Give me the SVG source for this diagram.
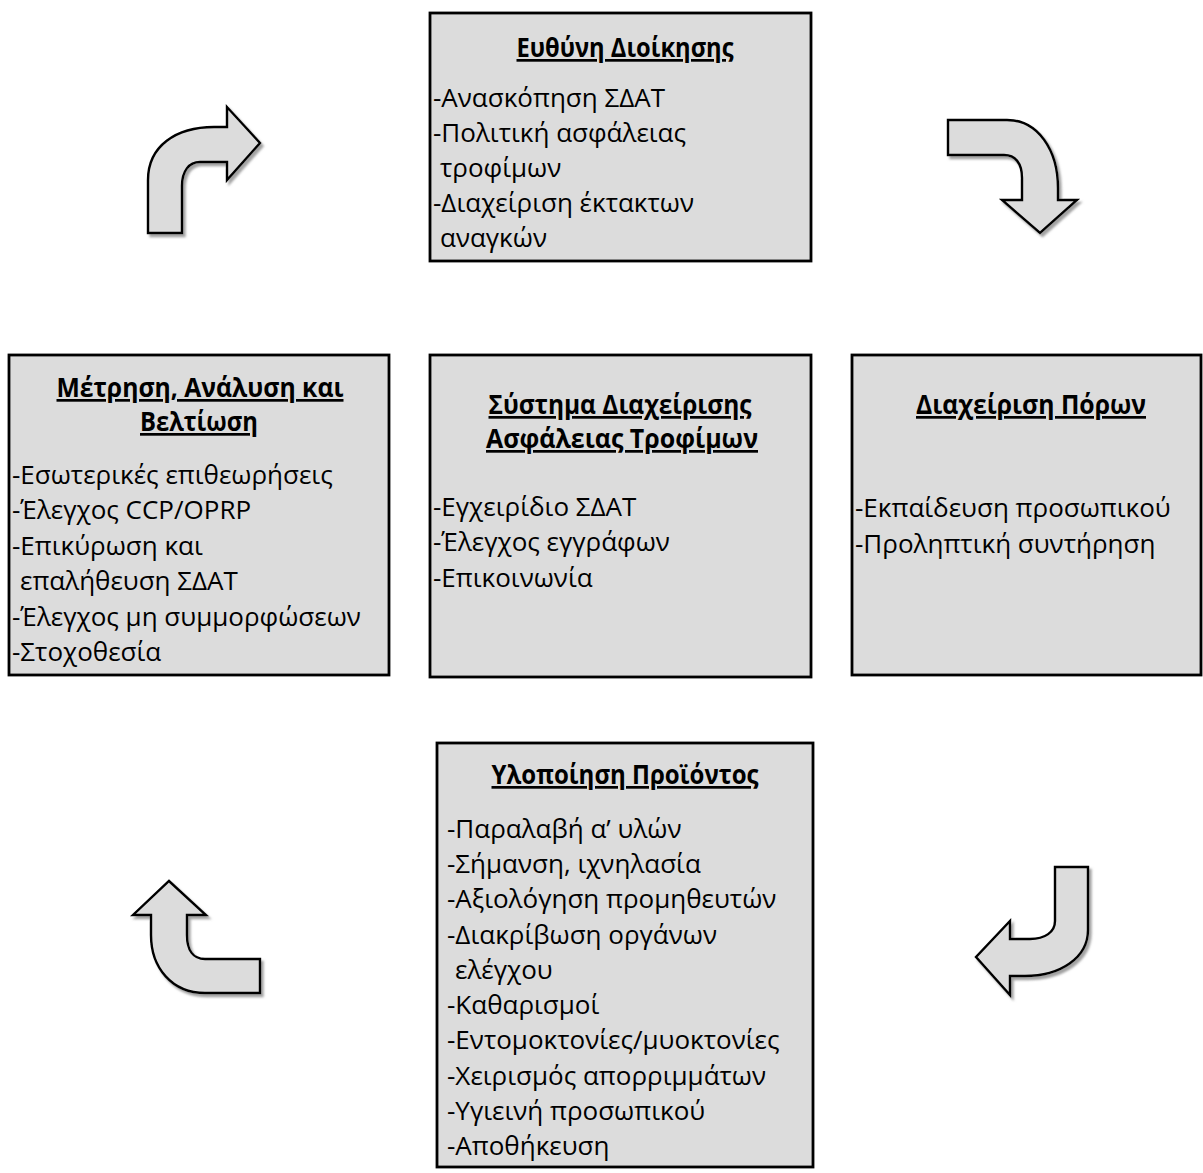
<svg xmlns="http://www.w3.org/2000/svg" width="1203" height="1173" viewBox="0 0 1203 1173">
  <style>
    .box { fill: #dcdcdc; stroke: #000; stroke-width: 2.8; }
    .arrow { fill: #dcdcdc; stroke: #000; stroke-width: 2.4; stroke-linejoin: miter; filter: url(#shadow); }
    text { font-family: "Open Sans", "Noto Sans", sans-serif; font-size: 26px; fill: #000; }
    .title { font-size: 27px; font-weight: bold; text-anchor: middle; text-decoration: underline; }
  </style>
  <defs>
    <filter id="shadow" x="-20%" y="-20%" width="140%" height="140%">
      <feDropShadow dx="2.5" dy="3" stdDeviation="1" flood-color="#7a7a7a" flood-opacity="0.7"/>
    </filter>
  </defs>
  <rect width="1203" height="1173" fill="#fff"/>

  <!-- curved cycle arrows -->
  <g id="connectors">
    <path class="arrow" d="M148,233 L148,180 C148,146 176,127 214,127 L227,127 L227,107 L260,143 L227,180 L227,162 L200,162 C189,162 182,171 182,186 L182,233 Z"/>
    <path class="arrow" d="M948,120 L1007,120 C1038,120 1058,150 1058,188 L1058,200 L1077,200 L1040,233 L1002,200 L1022,200 L1022,178 C1022,163 1015,155 1004,155 L948,155 Z"/>
    <path class="arrow" d="M1055,867 L1088,867 L1088,930 C1088,958 1060,976 1025,976 L1010,976 L1010,995 L976,957 L1010,921 L1010,939 L1030,939 C1045,939 1055,932 1055,921 Z"/>
    <path class="arrow" d="M169,881 L206,915 L187,915 L187,935 C187,950 193,959 205,959 L260,959 L260,993 L205,993 C172,993 151,968 151,935 L151,915 L133,915 Z"/>
  </g>

  <g id="management">
    <rect class="box" x="430" y="13" width="381" height="248"/>
    <text class="title" x="625" y="57" textLength="217" lengthAdjust="spacingAndGlyphs">Ευθύνη Διοίκησης</text>
    <text x="433" y="107">-Ανασκόπηση ΣΔΑΤ</text>
    <text x="433" y="142">-Πολιτική ασφάλειας</text>
    <text x="440" y="177">τροφίμων</text>
    <text x="433" y="212">-Διαχείριση έκτακτων</text>
    <text x="440" y="247">αναγκών</text>
  </g>

  <g id="measurement">
    <rect class="box" x="9" y="355" width="380" height="320"/>
    <text class="title" x="200" y="397" textLength="287" lengthAdjust="spacingAndGlyphs">Μέτρηση, Ανάλυση και</text>
    <text class="title" x="199" y="431" textLength="118" lengthAdjust="spacingAndGlyphs">Βελτίωση</text>
    <text x="12" y="484">-Εσωτερικές επιθεωρήσεις</text>
    <text x="12" y="519">-Έλεγχος CCP/OPRP</text>
    <text x="12" y="555">-Επικύρωση και</text>
    <text x="20" y="590">επαλήθευση ΣΔΑΤ</text>
    <text x="12" y="626">-Έλεγχος μη συμμορφώσεων</text>
    <text x="12" y="661">-Στοχοθεσία</text>
  </g>

  <g id="fsms">
    <rect class="box" x="430" y="355" width="381" height="322"/>
    <text class="title" x="620" y="414" textLength="263" lengthAdjust="spacingAndGlyphs">Σύστημα Διαχείρισης</text>
    <text class="title" x="622" y="448" textLength="272" lengthAdjust="spacingAndGlyphs">Ασφάλειας Τροφίμων</text>
    <text x="433" y="516">-Εγχειρίδιο ΣΔΑΤ</text>
    <text x="433" y="551">-Έλεγχος εγγράφων</text>
    <text x="433" y="587">-Επικοινωνία</text>
  </g>

  <g id="resources">
    <rect class="box" x="852" y="355" width="349" height="320"/>
    <text class="title" x="1031" y="414" textLength="230" lengthAdjust="spacingAndGlyphs">Διαχείριση Πόρων</text>
    <text x="855" y="517">-Εκπαίδευση προσωπικού</text>
    <text x="855" y="553">-Προληπτική συντήρηση</text>
  </g>

  <g id="product">
    <rect class="box" x="437" y="743" width="376" height="424"/>
    <text class="title" x="625" y="784" textLength="267" lengthAdjust="spacingAndGlyphs">Υλοποίηση Προϊόντος</text>
    <text x="447" y="838">-Παραλαβή α’ υλών</text>
    <text x="447" y="873">-Σήμανση, ιχνηλασία</text>
    <text x="447" y="908">-Αξιολόγηση προμηθευτών</text>
    <text x="447" y="944">-Διακρίβωση οργάνων</text>
    <text x="455" y="979">ελέγχου</text>
    <text x="447" y="1014">-Καθαρισμοί</text>
    <text x="447" y="1049">-Εντομοκτονίες/μυοκτονίες</text>
    <text x="447" y="1085">-Χειρισμός απορριμμάτων</text>
    <text x="447" y="1120">-Υγιεινή προσωπικού</text>
    <text x="447" y="1155">-Αποθήκευση</text>
  </g>
</svg>
